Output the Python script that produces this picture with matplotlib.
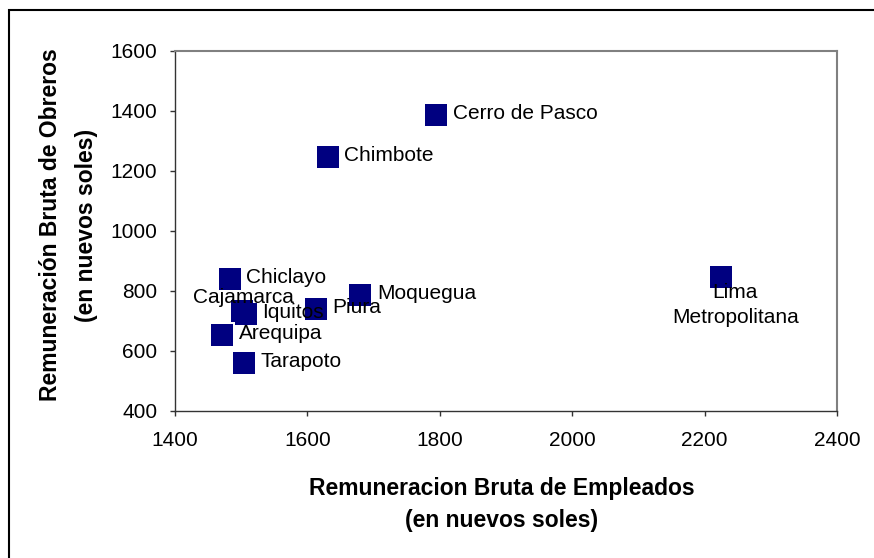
import matplotlib.pyplot as plt
from matplotlib.patches import Rectangle

plt.rcParams['font.family'] = ['Liberation Sans', 'DejaVu Sans']

# data (employees vs workers gross pay, nuevos soles)
ciudades = ["Cerro de Pasco", "Chimbote", "Chiclayo", "Moquegua", "Piura",
            "Cajamarca", "Iquitos", "Arequipa", "Tarapoto", "Lima\nMetropolitana"]
empleados = [1795, 1631, 1483, 1680, 1613, 1501, 1507, 1471, 1504, 2225]
obreros = [1387, 1247, 840, 787, 740, 735, 725, 653, 560, 847]

# label placement (pixels from the marker)
offsets = {
    "Cajamarca": (-49, 13, "left"),
    "Lima\nMetropolitana": (14, -28, "center"),
}

W, H = 874, 558
fig = plt.figure(figsize=(W / 100, H / 100), dpi=100)

# outer chart border (cut off on the right and bottom)
fig.patches.append(Rectangle((9 / W, -0.1), 1.2, (H - 10) / H + 0.1,
                             transform=fig.transFigure, fill=False,
                             edgecolor="black", linewidth=1.5))

ax = fig.add_axes([175 / W, (H - 411) / H, 662 / W, 360 / H])

ax.scatter(empleados, obreros, marker="s", s=15.2 ** 2, color="#000080",
           linewidths=0, zorder=3)

for nombre, x, y in zip(ciudades, empleados, obreros):
    dx, dy, ha = offsets.get(nombre, (16.5, 1.5, "left"))
    ax.annotate(nombre, (x, y), xytext=(dx, dy), textcoords="offset pixels",
                ha=ha, va="center", fontsize=15, linespacing=1.45, zorder=4)

ax.set_xlim(1400, 2400)
ax.set_ylim(400, 1600)
ax.set_xticks([1400, 1600, 1800, 2000, 2200, 2400])
ax.set_yticks([400, 600, 800, 1000, 1200, 1400, 1600])
ax.tick_params(labelsize=15, length=3.6, width=1, color="#333333")
ax.tick_params(axis="x", pad=11)
ax.tick_params(axis="y", pad=9)

for s in ["top", "right"]:
    ax.spines[s].set_color("#808080")
    ax.spines[s].set_linewidth(1.5)
for s in ["left", "bottom"]:
    ax.spines[s].set_color("#333333")
    ax.spines[s].set_linewidth(1)

fig.text(502 / W, 1 - 488 / H, "Remuneracion Bruta de Empleados",
         ha="center", va="center", fontsize=16.5, fontweight="bold")
fig.text(502 / W, 1 - 521 / H, "(en nuevos soles)",
         ha="center", va="center", fontsize=16.5, fontweight="bold")
fig.text(51 / W, 1 - 225 / H, "Remuneración Bruta de Obreros",
         ha="center", va="center", rotation=90, fontsize=16.5, fontweight="bold")
fig.text(86 / W, 1 - 225 / H, "(en nuevos soles)",
         ha="center", va="center", rotation=90, fontsize=16.5, fontweight="bold")

fig.savefig("out.png", dpi=100)
